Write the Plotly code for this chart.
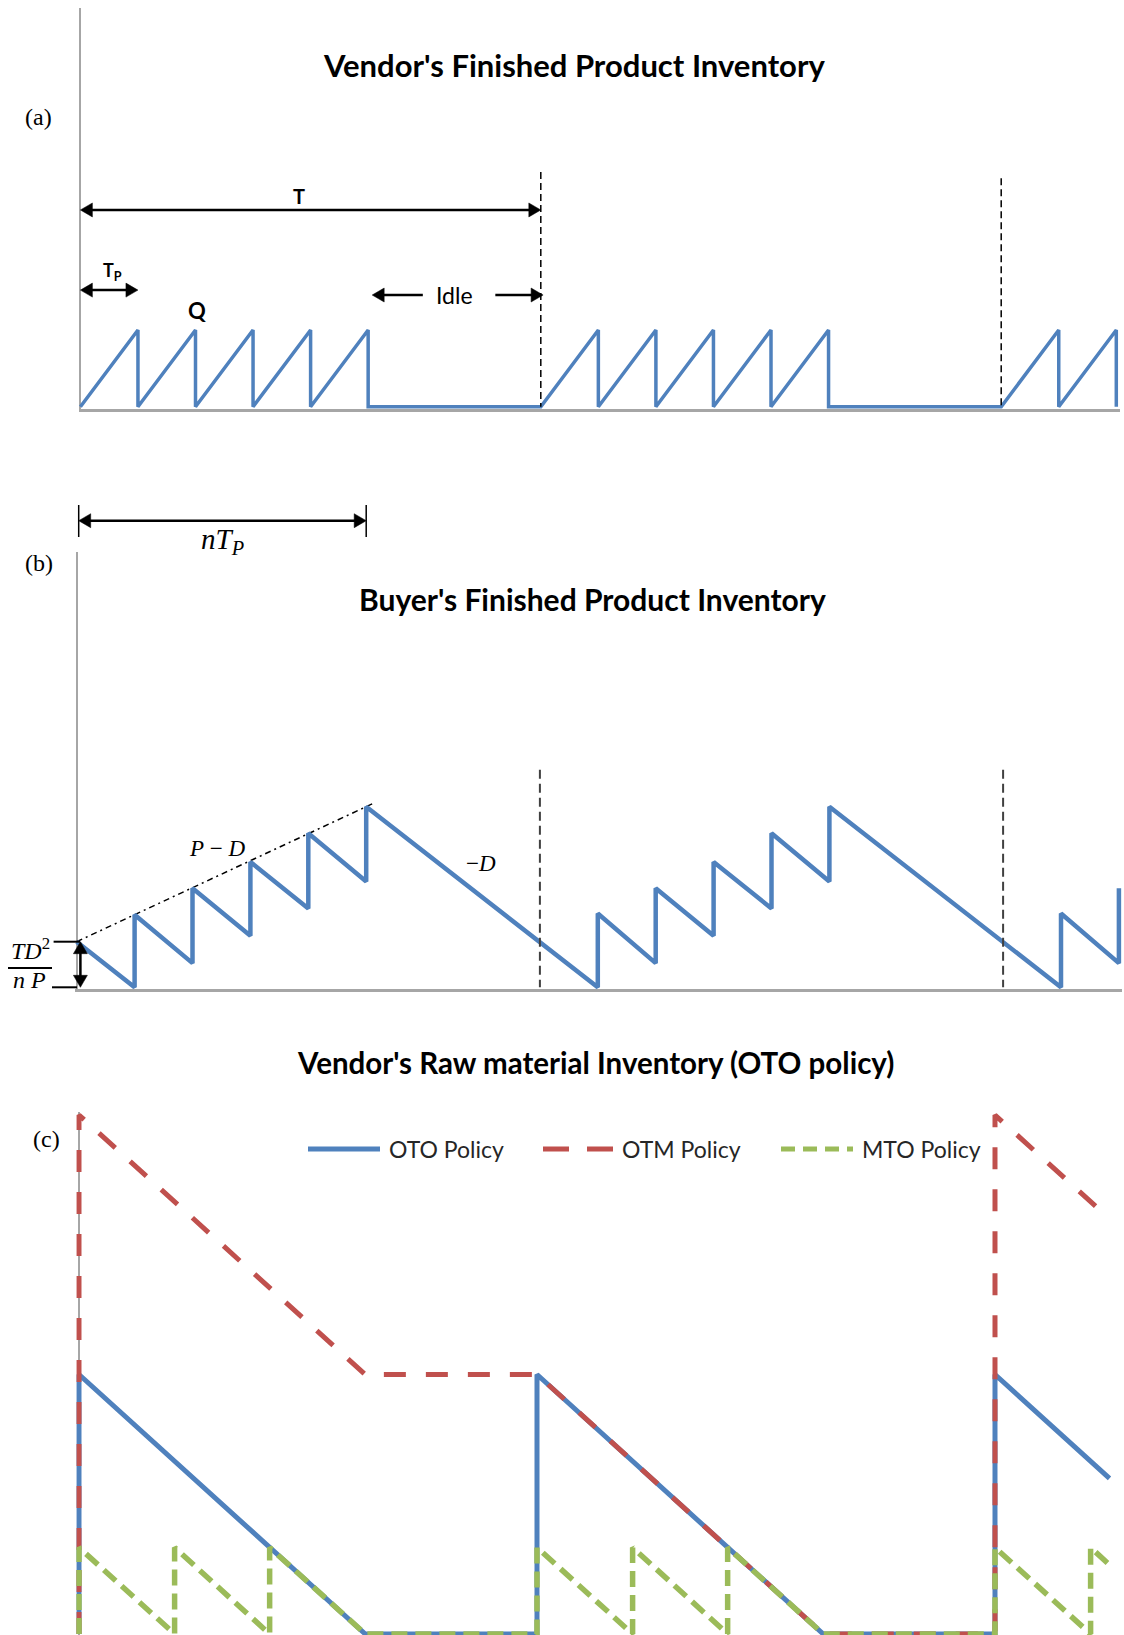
import math
import plotly.graph_objects as go

W, H = 1124, 1635

BLUE = "#4F81BD"
RED = "#C0504D"
GREEN = "#9BBB59"
AXIS_GREY = "#A6A6A6"

SANS = "Lato, Carlito, Calibri, sans-serif"
SERIF = "Liberation Serif, Times New Roman, serif"

# ---------------- (a) vendor's finished product inventory ----------------
# production runs of length Tp building up a lot Q, then idle until the next cycle
vendor_t = [0, 1, 1, 2, 2, 3, 3, 4, 4, 5, 5, 8, 9, 9, 10, 10, 11, 11, 12, 12, 13, 13, 16, 17, 17, 18, 18]
vendor_q = [0, 1, 0, 1, 0, 1, 0, 1, 0, 1, 0, 0, 1, 0, 1, 0, 1, 0, 1, 0, 1, 0, 0, 1, 0, 1, 0]
cycle_starts_a = [8, 16]
cycle_mark_tops_a = [3.06, 2.98]

# ---------------- (b) buyer's finished product inventory ----------------
buyer_t = [0, 1, 1, 2, 2, 3, 3, 4, 4, 5, 5, 9, 9, 10, 10, 11, 11, 12, 12, 13, 13, 17, 17, 18, 18]
buyer_q = [1.0, 0, 1.59, 0.53, 2.17, 1.13, 2.75, 1.73, 3.38, 2.32, 3.96,
           0, 1.62, 0.53, 2.17, 1.13, 2.75, 1.73, 3.38, 2.32, 3.96,
           0, 1.62, 0.53, 2.17]
rise_guide_t = [0, 5.15]
rise_guide_q = [1.0, 4.05]
cycle_starts_b = [8, 16]
cycle_mark_tops_b = [4.77, 4.77]

# ---------------- (c) vendor's raw material inventory ----------------
policy_names = ["OTO Policy", "OTM Policy", "MTO Policy"]
oto_t = [0, 0, 5, 8, 8, 13, 16, 16, 18]
oto_q = [0, 3, 0, 0, 3, 0, 0, 3, 1.8]
otm_t = [0, 0, 5, 8, 13, 16, 16, 18]
otm_q = [0, 6, 3, 3, 0, 0, 6, 4.8]
mto_t = [0, 0, 1.67, 1.67, 3.33, 3.33, 5, 8, 8, 9.67, 9.67, 11.33, 11.33, 13, 16, 16, 17.67, 17.67, 18]
mto_q = [0, 1, 0, 1, 0, 1, 0, 0, 1, 0, 1, 0, 1, 0, 0, 1, 0, 1, 0.8]


# ---------------- layout helpers (pixel geometry of each panel) ----------------
def px(x):
    return x / W


def py(y):
    return 1 - y / H


def clamp(v):
    return min(1.0, max(0.0, v))


def xdom(origin_px, unit, lo, hi):
    return [clamp(px(origin_px + lo * unit)), clamp(px(origin_px + hi * unit))]


def ydom(base_px, unit, lo, hi):
    return [clamp(py(base_px - lo * unit)), clamp(py(base_px - hi * unit))]


A_X0, A_UX, A_Y0, A_UY = 80.4, 57.55, 406.7, 76.7
B_X0, B_UX, B_Y0, B_UY = 76.7, 57.9, 987.3, 45.6
C_X0, C_UX, C_Y0, C_UY = 79.0, 57.25, 1634.0, 86.5

A_XR, A_YR = [-0.03, 18.06], [-0.03, 5.2]
B_XR, B_YR = [-0.03, 18.06], [-0.04, 9.55]
C_XR, C_YR = [-0.05, 18.1], [-0.0115, 6.03]


def a_px(t, q):
    return A_X0 + t * A_UX, A_Y0 - q * A_UY


def b_px(t, q):
    return B_X0 + t * B_UX, B_Y0 - q * B_UY


fig = go.Figure()

# panel (a)
fig.add_trace(go.Scatter(x=vendor_t, y=vendor_q, mode="lines", xaxis="x", yaxis="y",
                         line=dict(color=BLUE, width=3.5), showlegend=False, hoverinfo="skip"))
# panel (b)
fig.add_trace(go.Scatter(x=rise_guide_t, y=rise_guide_q, mode="lines", xaxis="x2", yaxis="y2",
                         line=dict(color="black", width=1.5, dash="6px,4px,2px,4px"),
                         showlegend=False, hoverinfo="skip"))
fig.add_trace(go.Scatter(x=buyer_t, y=buyer_q, mode="lines", xaxis="x2", yaxis="y2",
                         line=dict(color=BLUE, width=4.5), showlegend=False, hoverinfo="skip"))
# panel (c)
policy_series = [(oto_t, oto_q, BLUE, "solid", 5),
                 (otm_t, otm_q, RED, "22px,20px", 5),
                 (mto_t, mto_q, GREEN, "16px,8px", 5.5)]
for name, (t, q, col, dash, lw) in zip(policy_names, policy_series):
    fig.add_trace(go.Scatter(x=t, y=q, mode="lines", name=name, xaxis="x3", yaxis="y3",
                             line=dict(color=col, width=lw, dash=dash),
                             showlegend=False, hoverinfo="skip"))


def bare_x(dom, rng, anchor, bottom_line):
    return dict(domain=dom, range=rng, anchor=anchor, showgrid=False, showticklabels=False,
                ticks="", zeroline=True, zerolinecolor=AXIS_GREY, zerolinewidth=2,
                showline=bottom_line, linecolor=AXIS_GREY, linewidth=2.5, fixedrange=True)


def bare_y(dom, rng, anchor):
    return dict(domain=dom, range=rng, anchor=anchor, showgrid=False, showticklabels=False,
                ticks="", zeroline=False, showline=False, fixedrange=True)


fig.update_layout(
    width=W, height=H,
    margin=dict(l=0, r=0, t=0, b=0),
    paper_bgcolor="white", plot_bgcolor="white",
    xaxis=bare_x(xdom(A_X0, A_UX, *A_XR), A_XR, "y", True),
    yaxis=bare_y(ydom(A_Y0, A_UY, *A_YR), A_YR, "x"),
    xaxis2=bare_x(xdom(B_X0, B_UX, *B_XR), B_XR, "y2", True),
    yaxis2=bare_y(ydom(B_Y0, B_UY, *B_YR), B_YR, "x2"),
    xaxis3=bare_x(xdom(C_X0, C_UX, *C_XR), C_XR, "y3", False),
    yaxis3=bare_y(ydom(C_Y0, C_UY, *C_YR), C_YR, "x3"),
)

annotations = []
shapes = []


def text_at(x, y, text, size, family, color="black", xanchor="center"):
    annotations.append(dict(x=px(x), y=py(y), xref="paper", yref="paper", text=text,
                            showarrow=False, xanchor=xanchor, yanchor="middle",
                            font=dict(size=size, family=family, color=color)))


def seg_px(x0, y0, x1, y1, color="black", width=1.5, dash="solid"):
    shapes.append(dict(type="line", xref="paper", yref="paper",
                       x0=px(x0), y0=py(y0), x1=px(x1), y1=py(y1),
                       line=dict(color=color, width=width, dash=dash), layer="above"))


def head_px(tip_x, tip_y, ux, uy, length=12, half=7):
    # filled triangular arrow head whose tip sits at (tip_x, tip_y), pointing along (ux, uy)
    bx, by = tip_x - ux * length, tip_y - uy * length
    nx, ny = -uy * half, ux * half
    pts = [(tip_x, tip_y), (bx + nx, by + ny), (bx - nx, by - ny)]
    path = "M " + " L ".join(f"{px(x):.6f},{py(y):.6f}" for x, y in pts) + " Z"
    shapes.append(dict(type="path", xref="paper", yref="paper", path=path,
                       fillcolor="black", line=dict(color="black", width=0.5), layer="above"))


def arrow_px(x0, y0, x1, y1, start=True, width=2.5, length=12):
    # line from (x0, y0) to (x1, y1) with a head at the end (and optionally at the start)
    d = math.hypot(x1 - x0, y1 - y0)
    ux, uy = (x1 - x0) / d, (y1 - y0) / d
    sx0 = x0 + ux * (length - 2) if start else x0
    sy0 = y0 + uy * (length - 2) if start else y0
    seg_px(sx0, sy0, x1 - ux * (length - 2), y1 - uy * (length - 2), width=width)
    head_px(x1, y1, ux, uy, length)
    if start:
        head_px(x0, y0, -ux, -uy, length)


# ----- titles and panel letters -----
text_at(574, 65, "<b>Vendor's Finished Product Inventory</b>", 31, SANS)
text_at(592, 599, "<b>Buyer's Finished Product Inventory</b>", 30, SANS)
text_at(595, 1062, "<b>Vendor's Raw material Inventory (OTO policy)</b>", 29.5, SANS)
text_at(38, 117, "(a)", 24, SERIF)
text_at(39, 563, "(b)", 24, SERIF)
text_at(46, 1139, "(c)", 24, SERIF)

# ----- (a) annotations -----
for t, top in zip(cycle_starts_a, cycle_mark_tops_a):
    x_mark, y_top = a_px(t, top)
    _, y_base = a_px(t, 0)
    seg_px(x_mark, y_top, x_mark, y_base, width=1.5, dash="7px,4px")
arrow_px(*a_px(0, 2.565), *a_px(8, 2.565))
text_at(299, 196, "<b>T</b>", 20, SANS)
arrow_px(*a_px(0, 1.52), *a_px(1.0, 1.52))
text_at(112, 272, "<b>T<sub>P</sub></b>", 18, SANS)
arrow_px(*a_px(5.95, 1.456), *a_px(5.07, 1.456), start=False)
arrow_px(*a_px(7.21, 1.456), *a_px(8.04, 1.456), start=False)
text_at(454, 295, "Idle", 23, SANS)
text_at(197, 310, "<b>Q</b>", 22, SANS)

# ----- (b) annotations -----
for t, top in zip(cycle_starts_b, cycle_mark_tops_b):
    x_mark, y_top = b_px(t, top)
    _, y_base = b_px(t, 0)
    seg_px(x_mark, y_top, x_mark, y_base, color="#404040", width=2, dash="9px,5px")
# n·Tp span above the panel
x_left, _ = b_px(0, 0)
x_right, _ = b_px(5.0, 0)
arrow_px(x_left + 2, 520.7, x_right, 520.7)
seg_px(x_left + 2, 505, x_left + 2, 537)
seg_px(x_right, 505, x_right, 537)
text_at(222, 541, "<i>nT<sub>P</sub></i>", 29, SERIF)
text_at(217, 848, "<i>P</i> − <i>D</i>", 23, SERIF)
text_at(481, 863, "−<i>D</i>", 23, SERIF)
# initial stock TD²/nP marker
x_arr, y_hi = b_px(0.064, 1.0)
_, y_lo = b_px(0.064, 0)
arrow_px(x_arr, y_hi, x_arr, y_lo)
seg_px(53.6, y_hi, 80, y_hi, width=2)
seg_px(52, y_lo, 77, y_lo, width=2)
seg_px(8, 968, 52, 968, width=2)
text_at(30, 949, "<i>TD</i><sup>2</sup>", 24, SERIF)
text_at(29, 980, "<i>n P</i>", 24, SERIF)

# ----- (c) legend -----
legend_items = [(308, 380, 387, BLUE, "solid"),
                (543, 613, 620, RED, "26px,18px"),
                (781, 853, 860, GREEN, "14px,8px")]
for name, (l0, l1, tx, col, dash) in zip(policy_names, legend_items):
    seg_px(l0, 1149, l1, 1149, color=col, width=5, dash=dash)
    text_at(tx, 1149, name, 23, SANS, color="#262626", xanchor="left")

fig.update_layout(annotations=annotations, shapes=shapes)
fig.write_html("out.html")
